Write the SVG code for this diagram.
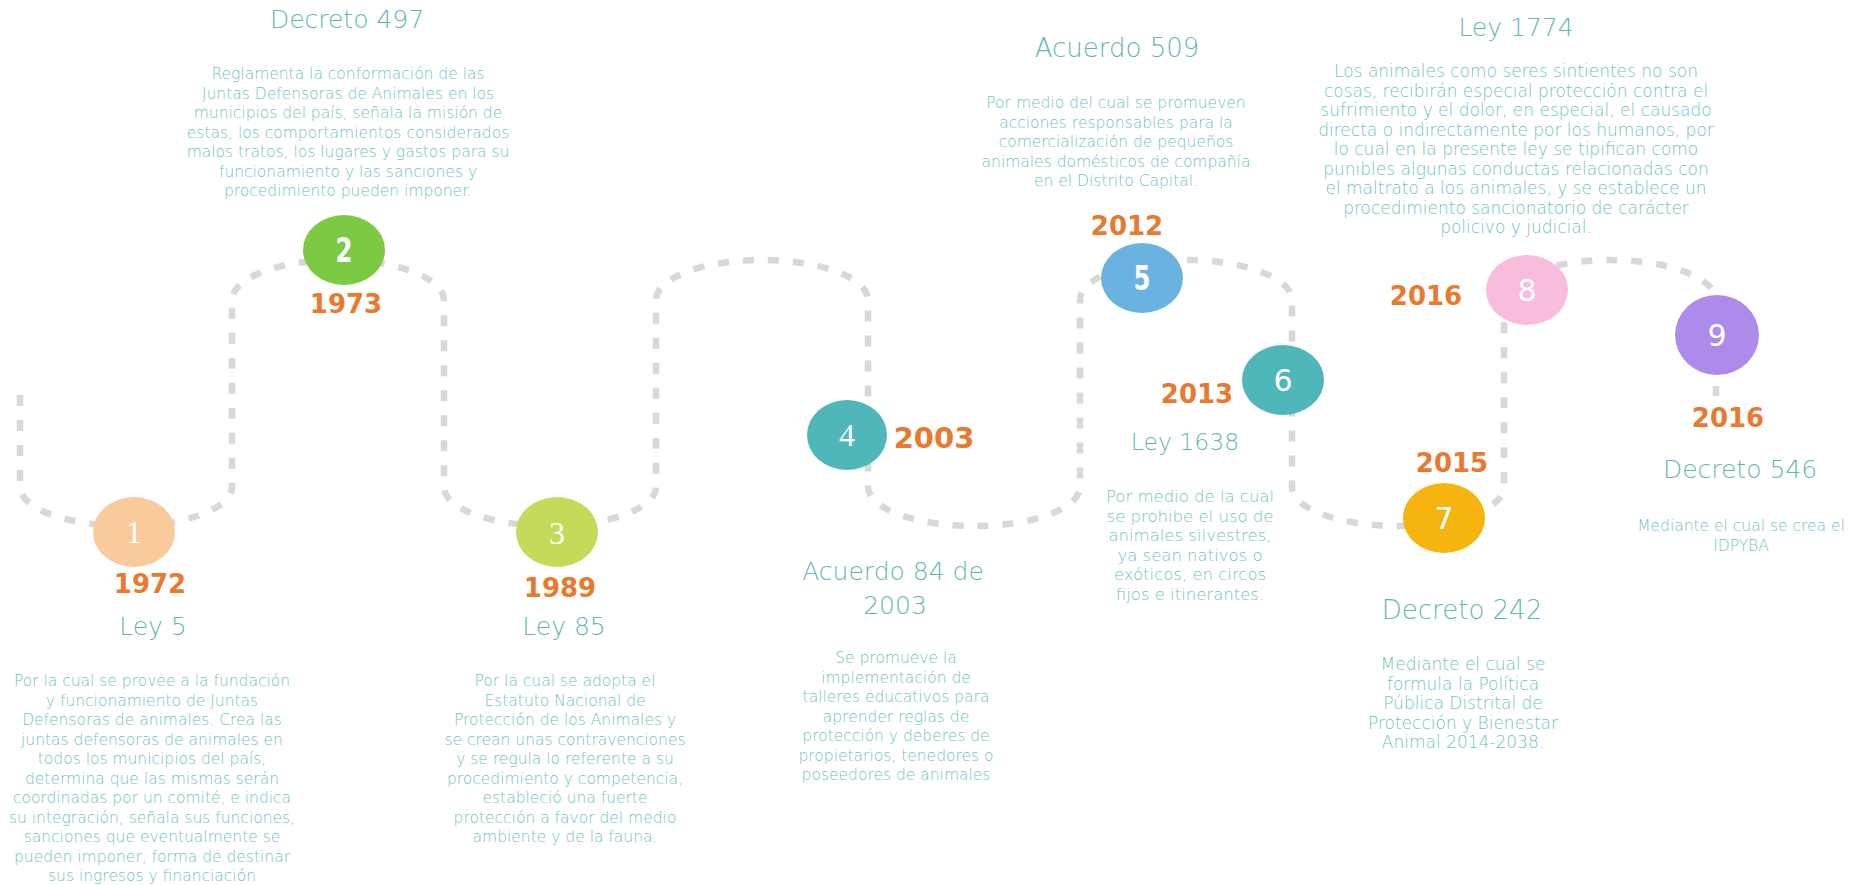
<svg xmlns="http://www.w3.org/2000/svg" width="1864" height="885" viewBox="0 0 1864 885">
<style>
.bg{fill:#ffffff}
.dash{fill:none;stroke:#d8d8d8;stroke-width:6.5;stroke-dasharray:11 14}
.title{font-family:"DejaVu Sans","Liberation Sans",sans-serif;font-size:25px;font-weight:300;fill:#5fb7b5;text-anchor:middle}
.desc{font-family:"DejaVu Sans","Liberation Sans",sans-serif;font-size:15.5px;font-weight:300;fill:#6cc4c3;text-anchor:middle}
.year{font-family:"DejaVu Sans","Liberation Sans",sans-serif;font-size:26px;font-weight:bold;fill:#e8792e;text-anchor:middle}
.num{fill:#ffffff;text-anchor:middle}
.serif{font-family:"Liberation Serif",serif;font-size:32px}
.cond{font-family:"DejaVu Sans","Liberation Sans",sans-serif;font-weight:bold;font-size:34px}
.sans{font-family:"DejaVu Sans","Liberation Sans",sans-serif;font-size:30px}
</style>
<rect class="bg" x="0" y="0" width="1864" height="885"/>
<g id="connectors">
<path class="dash" d="M20 395 V487 A106 39 0 0 0 232 487 V300 A106 40 0 0 1 444 300 V487 A106 39 0 0 0 656 487 V300 A106 40 0 0 1 868 300 V487 A106 39 0 0 0 1080 487 V300 A106 40 0 0 1 1292 300 V487 A106 39 0 0 0 1504 487 V300 A106 40 0 0 1 1716 300 V340 M1716 386 V396"/>
</g>
<g id="node1">
<ellipse cx="134" cy="532" rx="41" ry="35" fill="#f9cb9c"/>
<text class="num serif" x="134" y="543">1</text>
<text class="year" x="150" y="593">1972</text>
<text class="title" x="153" y="635">Ley 5</text>
<text class="desc" x="152" y="686">Por la cual se provee a la fundación</text>
<text class="desc" x="152" y="705.5">y funcionamiento de Juntas</text>
<text class="desc" x="152" y="725">Defensoras de animales. Crea las</text>
<text class="desc" x="152" y="744.5">juntas defensoras de animales en</text>
<text class="desc" x="152" y="764">todos los municipios del país,</text>
<text class="desc" x="152" y="783.5">determina que las mismas serán</text>
<text class="desc" x="152" y="803">coordinadas por un comité, e indica</text>
<text class="desc" x="152" y="822.5">su integración, señala sus funciones,</text>
<text class="desc" x="152" y="842">sanciones que eventualmente se</text>
<text class="desc" x="152" y="861.5">pueden imponer, forma de destinar</text>
<text class="desc" x="152" y="881">sus ingresos y financiación</text>
</g>
<g id="node2">
<ellipse cx="344" cy="250" rx="41" ry="35" fill="#7cc943"/>
<text class="num cond" transform="translate(344 262) scale(0.72 1)">2</text>
<text class="year" x="346" y="313">1973</text>
<text class="title" x="347" y="28">Decreto 497</text>
<text class="desc" x="348" y="79">Reglamenta la conformación de las</text>
<text class="desc" x="348" y="98.5">Juntas Defensoras de Animales en los</text>
<text class="desc" x="348" y="118">municipios del país, señala la misión de</text>
<text class="desc" x="348" y="137.5">estas, los comportamientos considerados</text>
<text class="desc" x="348" y="157">malos tratos, los lugares y gastos para su</text>
<text class="desc" x="348" y="176.5">funcionamiento y las sanciones y</text>
<text class="desc" x="348" y="196">procedimiento pueden imponer.</text>
</g>
<g id="node3">
<ellipse cx="557" cy="532" rx="41" ry="35" fill="#c3db58"/>
<text class="num serif" x="557" y="544">3</text>
<text class="year" x="560" y="597">1989</text>
<text class="title" x="564" y="635">Ley 85</text>
<text class="desc" x="565" y="686">Por la cual se adopta el</text>
<text class="desc" x="565" y="705.5">Estatuto Nacional de</text>
<text class="desc" x="565" y="725">Protección de los Animales y</text>
<text class="desc" x="565" y="744.5">se crean unas contravenciones</text>
<text class="desc" x="565" y="764">y se regula lo referente a su</text>
<text class="desc" x="565" y="783.5">procedimiento y competencia,</text>
<text class="desc" x="565" y="803">estableció una fuerte</text>
<text class="desc" x="565" y="822.5">protección a favor del medio</text>
<text class="desc" x="565" y="842">ambiente y de la fauna.</text>
</g>
<g id="node4">
<ellipse cx="847" cy="435" rx="40" ry="35" fill="#4fb7b9"/>
<text class="num serif" x="847" y="446">4</text>
<text class="year" x="934" y="448" style="font-size:29px">2003</text>
<text class="title" x="893" y="580">Acuerdo 84 de</text>
<text class="title" x="895" y="614">2003</text>
<text class="desc" x="896" y="663">Se promueve la</text>
<text class="desc" x="896" y="682.5">implementación de</text>
<text class="desc" x="896" y="702">talleres educativos para</text>
<text class="desc" x="896" y="721.5">aprender reglas de</text>
<text class="desc" x="896" y="741">protección y deberes de</text>
<text class="desc" x="896" y="760.5">propietarios, tenedores o</text>
<text class="desc" x="896" y="780">poseedores de animales</text>
</g>
<g id="node5">
<ellipse cx="1142" cy="278" rx="41" ry="35" fill="#6ab3e0"/>
<text class="num cond" transform="translate(1142 290) scale(0.72 1)">5</text>
<text class="year" x="1127" y="235">2012</text>
<text class="title" x="1117" y="57" style="font-size:26px">Acuerdo 509</text>
<text class="desc" x="1116" y="108">Por medio del cual se promueven</text>
<text class="desc" x="1116" y="127.5">acciones responsables para la</text>
<text class="desc" x="1116" y="147">comercialización de pequeños</text>
<text class="desc" x="1116" y="166.5">animales domésticos de compañía</text>
<text class="desc" x="1116" y="186">en el Distrito Capital.</text>
</g>
<g id="node6">
<ellipse cx="1283" cy="380" rx="41" ry="35" fill="#4fb7b9"/>
<text class="num sans" x="1283" y="391">6</text>
<text class="year" x="1197" y="403">2013</text>
<text class="title" x="1185" y="450" style="font-size:23.5px">Ley 1638</text>
<text class="desc" x="1190" y="502" style="font-size:16.5px">Por medio de la cual</text>
<text class="desc" x="1190" y="521.5" style="font-size:16.5px">se prohibe el uso de</text>
<text class="desc" x="1190" y="541" style="font-size:16.5px">animales silvestres,</text>
<text class="desc" x="1190" y="560.5" style="font-size:16.5px">ya sean nativos o</text>
<text class="desc" x="1190" y="580" style="font-size:16.5px">exóticos, en circos</text>
<text class="desc" x="1190" y="599.5" style="font-size:16.5px">fijos e itinerantes.</text>
</g>
<g id="node7">
<ellipse cx="1444" cy="518" rx="41" ry="35" fill="#f5b50e"/>
<text class="num sans" x="1444" y="529">7</text>
<text class="year" x="1452" y="472">2015</text>
<text class="title" x="1462" y="619" style="font-size:26px">Decreto 242</text>
<text class="desc" x="1463" y="670" style="font-size:17px">Mediante el cual se</text>
<text class="desc" x="1463" y="689.5" style="font-size:17px">formula la Política</text>
<text class="desc" x="1463" y="709" style="font-size:17px">Pública Distrital de</text>
<text class="desc" x="1463" y="728.5" style="font-size:17px">Protección y Bienestar</text>
<text class="desc" x="1463" y="748" style="font-size:17px">Animal 2014-2038.</text>
</g>
<g id="node8">
<ellipse cx="1527" cy="290" rx="41" ry="35" fill="#f8bcdd"/>
<text class="num sans" x="1527" y="301">8</text>
<text class="year" x="1426" y="305">2016</text>
<text class="title" x="1516" y="36">Ley 1774</text>
<text class="desc" x="1516" y="77" style="font-size:17px">Los animales como seres sintientes no son</text>
<text class="desc" x="1516" y="96.5" style="font-size:17px">cosas, recibirán especial protección contra el</text>
<text class="desc" x="1516" y="116" style="font-size:17px">sufrimiento y el dolor, en especial, el causado</text>
<text class="desc" x="1516" y="135.5" style="font-size:17px">directa o indirectamente por los humanos, por</text>
<text class="desc" x="1516" y="155" style="font-size:17px">lo cual en la presente ley se tipifican como</text>
<text class="desc" x="1516" y="174.5" style="font-size:17px">punibles algunas conductas relacionadas con</text>
<text class="desc" x="1516" y="194" style="font-size:17px">el maltrato a los animales, y se establece un</text>
<text class="desc" x="1516" y="213.5" style="font-size:17px">procedimiento sancionatorio de carácter</text>
<text class="desc" x="1516" y="233" style="font-size:17px">policivo y judicial.</text>
</g>
<g id="node9">
<ellipse cx="1717" cy="335" rx="42" ry="40" fill="#ae8aea"/>
<text class="num sans" x="1717" y="346">9</text>
<text class="year" x="1728" y="427">2016</text>
<text class="title" x="1740" y="478">Decreto 546</text>
<text class="desc" x="1741" y="531">Mediante el cual se crea el</text>
<text class="desc" x="1741" y="551">IDPYBA</text>
</g>
</svg>
